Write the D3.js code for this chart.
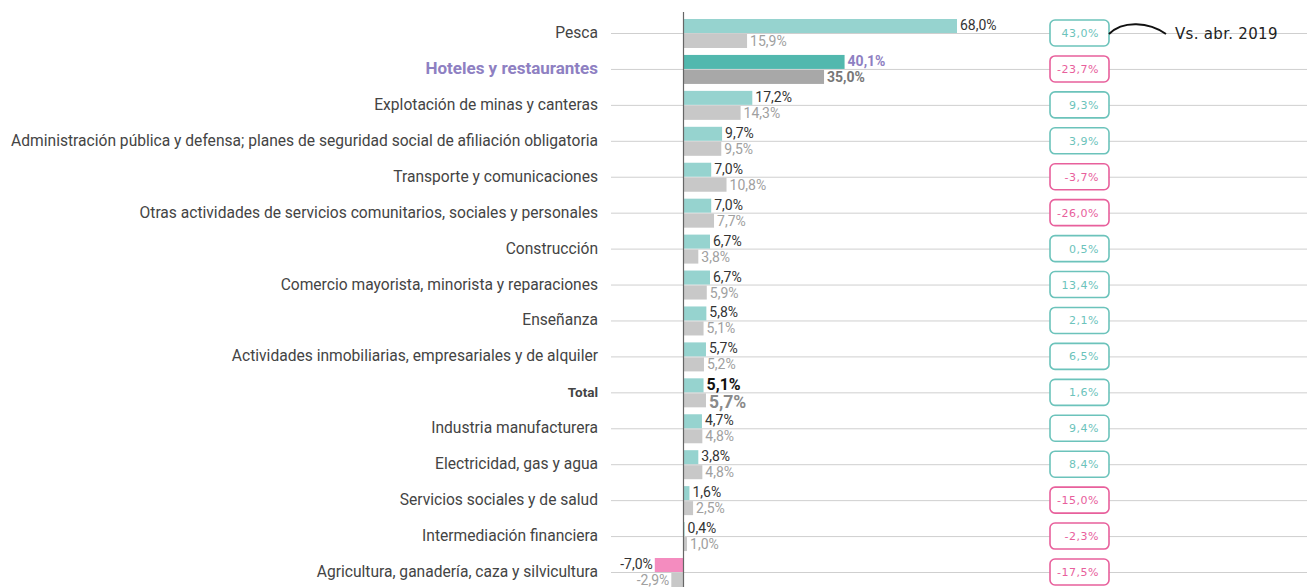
<!DOCTYPE html>
<html>
<head>
<meta charset="utf-8">
<script src="https://cdn.jsdelivr.net/npm/d3@7"></script>
<style>
  body { margin: 0; background: #fff; }
  svg { display: block; }
</style>
</head>
<body>
<div id="chart"></div>
<script>
// rama de actividad, variación interanual
var categories = [
  'Pesca',
  'Hoteles y restaurantes',
  'Explotación de minas y canteras',
  'Administración pública y defensa; planes de seguridad social de afiliación obligatoria',
  'Transporte y comunicaciones',
  'Otras actividades de servicios comunitarios, sociales y personales',
  'Construcción',
  'Comercio mayorista, minorista y reparaciones',
  'Enseñanza',
  'Actividades inmobiliarias, empresariales y de alquiler',
  'Total',
  'Industria manufacturera',
  'Electricidad, gas y agua',
  'Servicios sociales y de salud',
  'Intermediación financiera',
  'Agricultura, ganadería, caza y silvicultura'
]
var current = [68.0, 40.1, 17.2, 9.7, 7.0, 7.0, 6.7, 6.7, 5.8, 5.7, 5.1, 4.7, 3.8, 1.6, 0.4, -7.0]
var previous = [15.9, 35.0, 14.3, 9.5, 10.8, 7.7, 3.8, 5.9, 5.1, 5.2, 5.7, 4.8, 4.8, 2.5, 1.0, -2.9]
var vsAbr2019 = [43.0, -23.7, 9.3, 3.9, -3.7, -26.0, 0.5, 13.4, 2.1, 6.5, 1.6, 9.4, 8.4, -15.0, -2.3, -17.5]
var highlight = 'Hoteles y restaurantes'
var totalLabel = 'Total'
var noteText = 'Vs. abr. 2019'

var W = 1307, H = 587
var fmt = function(v) { return v.toFixed(1).replace('.', ',') + '%' }

var svg = d3.select('#chart').append('svg')
  .attr('width', W).attr('height', H)

var x = d3.scaleLinear().domain([0, 68]).range([683, 957])
var y = d3.scalePoint().domain(categories).range([33, 572])
var barH = 14

// gridlines
svg.append('g').selectAll('line')
  .data(categories).enter().append('line')
  .attr('x1', 611).attr('x2', W)
  .attr('y1', function(d) { return y(d) + 0.5 })
  .attr('y2', function(d) { return y(d) + 0.5 })
  .attr('stroke', '#cfcfcf').attr('stroke-width', 1)

// category labels
svg.append('g').selectAll('text')
  .data(categories).enter().append('text')
  .attr('x', 598)
  .attr('y', function(d) { return y(d) + 5 })
  .attr('text-anchor', 'end')
  .style('font-family', 'Roboto, sans-serif')
  .style('font-size', function(d) {
    if (d == totalLabel) return '13.5px'
    return d == highlight ? '17px' : '15.6px'
  })
  .style('font-weight', function(d) { return d == highlight || d == totalLabel ? 'bold' : 'normal' })
  .attr('fill', function(d) { return d == highlight ? '#8e80c2' : '#444' })
  .text(function(d) { return d })

var rows = categories.map(function(c, i) {
  return {cat: c, cur: current[i], prev: previous[i], vs: vsAbr2019[i]}
})

var g = svg.append('g')

// current bars (above the line)
g.selectAll('rect.cur').data(rows).enter().append('rect')
  .attr('class', 'cur')
  .attr('x', function(d) { return Math.min(x(0), x(d.cur)) })
  .attr('y', function(d) { return y(d.cat) - barH })
  .attr('width', function(d) { return Math.abs(x(d.cur) - x(0)) })
  .attr('height', barH)
  .attr('fill', function(d) {
    if (d.cur < 0) return '#f48cbf'
    return d.cat == highlight ? '#52b8ae' : '#96d3cf'
  })

// previous bars (below the line)
g.selectAll('rect.prev').data(rows).enter().append('rect')
  .attr('class', 'prev')
  .attr('x', function(d) { return Math.min(x(0), x(d.prev)) })
  .attr('y', function(d) { return y(d.cat) + 1 })
  .attr('width', function(d) { return Math.abs(x(d.prev) - x(0)) })
  .attr('height', barH)
  .attr('fill', function(d) { return d.cat == highlight ? '#a8a8a8' : '#c8c8c8' })

// value labels
g.selectAll('text.cur').data(rows).enter().append('text')
  .attr('x', function(d) { return d.cur < 0 ? x(d.cur) - 2 : x(d.cur) + 3 })
  .attr('y', function(d) { return y(d.cat) - (d.cat == totalLabel ? 2 : 3) })
  .attr('text-anchor', function(d) { return d.cur < 0 ? 'end' : 'start' })
  .style('font-family', 'Roboto, sans-serif')
  .style('font-size', function(d) { return d.cat == totalLabel ? '16px' : '14px' })
  .style('font-weight', function(d) { return d.cat == highlight || d.cat == totalLabel ? 'bold' : 'normal' })
  .attr('fill', function(d) {
    if (d.cat == highlight) return '#8e80c2'
    return d.cat == totalLabel ? '#111' : '#333'
  })
  .text(function(d) { return fmt(d.cur) })

g.selectAll('text.prev').data(rows).enter().append('text')
  .attr('x', function(d) { return d.prev < 0 ? x(d.prev) - 2 : x(d.prev) + 3 })
  .attr('y', function(d) { return y(d.cat) + (d.cat == totalLabel ? 16 : 13) })
  .attr('text-anchor', function(d) { return d.prev < 0 ? 'end' : 'start' })
  .style('font-family', 'Roboto, sans-serif')
  .style('font-size', function(d) { return d.cat == totalLabel ? '17.5px' : '14px' })
  .style('font-weight', function(d) { return d.cat == highlight || d.cat == totalLabel ? 'bold' : 'normal' })
  .attr('fill', function(d) {
    if (d.cat == highlight) return '#777'
    return d.cat == totalLabel ? '#8a8a8a' : '#a0a0a0'
  })
  .text(function(d) { return fmt(d.prev) })

// zero axis
svg.append('line')
  .attr('x1', x(0) + 0.5).attr('x2', x(0) + 0.5)
  .attr('y1', 12).attr('y2', H)
  .attr('stroke', '#666').attr('stroke-width', 1.2)

// comparison boxes
var boxX = 1050, boxW = 59, boxH = 26
var box = svg.append('g').selectAll('g').data(rows).enter().append('g')
  .attr('transform', function(d) { return 'translate(' + boxX + ',' + y(d.cat) + ')' })
box.append('rect')
  .attr('x', 0).attr('y', -boxH / 2)
  .attr('width', boxW).attr('height', boxH)
  .attr('rx', 5)
  .attr('fill', '#fff')
  .attr('stroke', function(d) { return d.vs < 0 ? '#e8609c' : '#6cc3bb' })
  .attr('stroke-width', 1.6)
box.append('text')
  .attr('x', 49).attr('y', 4)
  .attr('text-anchor', 'end')
  .style('font-family', 'DejaVu Sans, sans-serif')
  .style('font-size', '11px')
  .style('letter-spacing', '0.5px')
  .attr('fill', function(d) { return d.vs < 0 ? '#e8609c' : '#6cc3bb' })
  .text(function(d) { return fmt(d.vs) })

// annotation
var y0 = y(categories[0])
var x0 = boxX + boxW
svg.append('path')
  .attr('d', 'M' + x0 + ',' + (y0 + 1) + ' C' + (x0 + 14) + ',' + (y0 - 13) + ' ' + (x0 + 40) + ',' + (y0 - 11) + ' ' + (x0 + 57) + ',' + (y0 + 1))
  .attr('fill', 'none').attr('stroke', '#111').attr('stroke-width', 2)
svg.append('text')
  .attr('x', 1175).attr('y', y0 + 6)
  .style('font-family', 'DejaVu Sans, sans-serif')
  .style('font-size', '15px')
  .style('letter-spacing', '0.3px')
  .attr('fill', '#222')
  .text(noteText)
</script>
</body>
</html>
